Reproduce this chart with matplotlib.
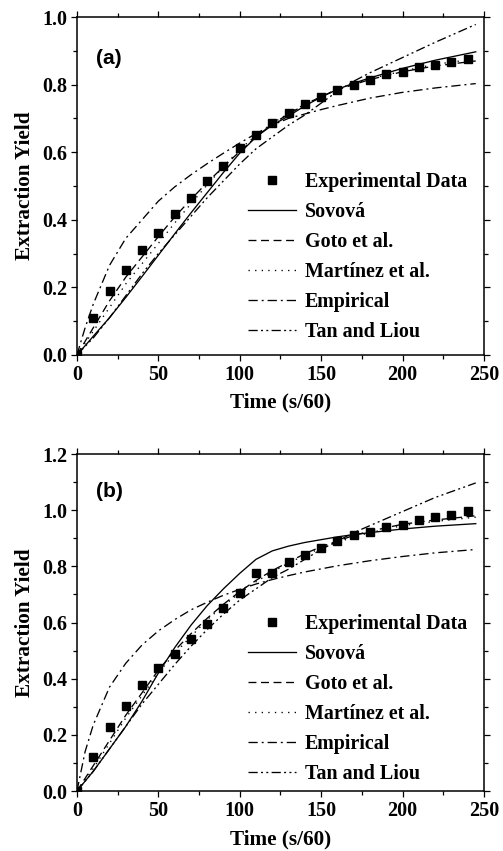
import numpy as np
import matplotlib
matplotlib.use('Agg')
import matplotlib.pyplot as plt
from matplotlib.ticker import MultipleLocator, FormatStrFormatter

plt.rcParams['font.family'] = ['Liberation Serif', 'DejaVu Serif']
plt.rcParams['font.weight'] = 'bold'

# ---- panel (a) data ----
t_exp = [0, 10, 20, 30, 40, 50, 60, 70, 80, 90, 100, 110, 120, 130, 140, 150,
         160, 170, 180, 190, 200, 210, 220, 230, 240]
a_exp = [0.0, 0.11, 0.19, 0.25, 0.31, 0.36, 0.417, 0.463, 0.516, 0.56, 0.613, 0.65,
         0.687, 0.716, 0.742, 0.763, 0.783, 0.80, 0.813, 0.83, 0.838, 0.852, 0.859,
         0.868, 0.876]

t_mod = [0, 5, 10, 20, 30, 40, 50, 60, 70, 80, 90, 100, 110, 120, 130, 140, 150,
         160, 170, 180, 200, 220, 245]
a_sovova = [0.0, 0.027, 0.055, 0.11, 0.17, 0.232, 0.295, 0.358, 0.42, 0.48, 0.54,
            0.597, 0.645, 0.68, 0.707, 0.737, 0.763, 0.786, 0.804, 0.82, 0.848,
            0.872, 0.897]
a_goto = [0.0, 0.04, 0.08, 0.16, 0.23, 0.29, 0.35, 0.408, 0.46, 0.51, 0.557, 0.602,
          0.645, 0.683, 0.713, 0.74, 0.765, 0.785, 0.80, 0.815, 0.838, 0.855, 0.87]
a_martinez = [0.0, 0.035, 0.07, 0.14, 0.21, 0.27, 0.33, 0.39, 0.447, 0.503, 0.557,
              0.608, 0.65, 0.685, 0.715, 0.742, 0.765, 0.786, 0.802, 0.817, 0.84,
              0.86, 0.876]
a_empirical = [0.0, 0.08, 0.15, 0.265, 0.345, 0.40, 0.455, 0.497, 0.533, 0.566,
               0.597, 0.627, 0.655, 0.68, 0.70, 0.713, 0.726, 0.738, 0.749, 0.76,
               0.777, 0.79, 0.803]
a_tan = [0.0, 0.025, 0.05, 0.11, 0.175, 0.24, 0.30, 0.355, 0.41, 0.465, 0.515,
         0.565, 0.61, 0.645, 0.68, 0.71, 0.745, 0.78, 0.81, 0.835, 0.88, 0.925, 0.978]

# ---- panel (b) data ----
b_exp = [0.0, 0.122, 0.229, 0.303, 0.378, 0.437, 0.487, 0.542, 0.594, 0.653, 0.705,
         0.778, 0.778, 0.814, 0.839, 0.867, 0.889, 0.91, 0.924, 0.94, 0.948, 0.964,
         0.974, 0.984, 0.996]
b_sovova = [0.0, 0.035, 0.07, 0.15, 0.23, 0.32, 0.42, 0.51, 0.59, 0.66, 0.72, 0.775,
            0.825, 0.855, 0.872, 0.885, 0.895, 0.905, 0.913, 0.92, 0.933, 0.943, 0.952]
b_goto = [0.0, 0.045, 0.09, 0.18, 0.27, 0.35, 0.43, 0.50, 0.56, 0.615, 0.665, 0.71,
          0.75, 0.785, 0.815, 0.845, 0.87, 0.89, 0.91, 0.925, 0.95, 0.965, 0.98]
b_martinez = [0.0, 0.04, 0.08, 0.17, 0.26, 0.34, 0.42, 0.49, 0.55, 0.61, 0.66,
              0.705, 0.745, 0.78, 0.812, 0.84, 0.865, 0.885, 0.905, 0.92, 0.945,
              0.96, 0.975]
b_empirical = [0.0, 0.14, 0.235, 0.37, 0.455, 0.52, 0.57, 0.61, 0.645, 0.672, 0.697,
               0.718, 0.737, 0.753, 0.767, 0.78, 0.791, 0.802, 0.811, 0.82, 0.835,
               0.848, 0.86]
b_tan = [0.0, 0.035, 0.07, 0.15, 0.23, 0.31, 0.38, 0.45, 0.515, 0.575, 0.63, 0.68,
         0.72, 0.76, 0.79, 0.825, 0.86, 0.89, 0.92, 0.945, 0.995, 1.045, 1.097]

labels = ['Experimental Data', 'Sovová', 'Goto et al.', 'Martínez et al.',
          'Empirical', 'Tan and Liou']

lw = 0.95
styles = {
    'Sovová': '-',
    'Goto et al.': (0, (6, 3.5)),
    'Martínez et al.': (0, (1, 4)),
    'Empirical': (0, (7, 3, 1.5, 3)),
    'Tan and Liou': (0, (7, 2.5, 1.5, 2.5, 1.5, 2.5)),
}


def draw_panel(ax, exp, curves, ymax, tag, leg_y):
    ax.plot(t_exp, exp, 's', color='black', markersize=5.5, label=labels[0], zorder=5)
    for name, vals in zip(labels[1:], curves):
        ax.plot(t_mod, vals, color='black', lw=lw, linestyle=styles[name], label=name)
    ax.set_xlim(0, 250)
    ax.set_ylim(0, ymax)
    ax.xaxis.set_major_locator(MultipleLocator(50))
    ax.xaxis.set_minor_locator(MultipleLocator(25))
    ax.yaxis.set_major_locator(MultipleLocator(0.2))
    ax.yaxis.set_minor_locator(MultipleLocator(0.1))
    ax.yaxis.set_major_formatter(FormatStrFormatter('%.1f'))
    ax.tick_params(which='both', direction='out', top=True, right=True, width=0.9,
                   labelsize=14.5)
    ax.tick_params(which='major', length=4.5, pad=2.5)
    ax.tick_params(which='minor', length=3)
    for lab in ax.get_xticklabels() + ax.get_yticklabels():
        lab.set_fontweight('bold')
    for sp in ax.spines.values():
        sp.set_linewidth(1.1)
    ax.set_xlabel('Time (s/60)', fontsize=15.3, fontweight='bold', labelpad=6)
    ax.set_ylabel('Extraction Yield', fontsize=15.3, fontweight='bold', labelpad=5)
    ax.text(0.048, tag[1], tag[0], transform=ax.transAxes, fontsize=15,
            fontweight='bold', family='Liberation Sans', va='center', ha='left')
    ax.legend(loc='upper left', bbox_to_anchor=(0.42, leg_y), frameon=False,
              handlelength=2.4, handletextpad=0.45, labelspacing=0.5,
              borderpad=0, borderaxespad=0, numpoints=1,
              prop={'weight': 'bold', 'size': 14.4})


fig = plt.figure(figsize=(5.03, 8.51), dpi=100)
ax1 = fig.add_axes([0.153, 0.583, 0.809, 0.397])
ax2 = fig.add_axes([0.153, 0.0705, 0.809, 0.396])

draw_panel(ax1, a_exp, [a_sovova, a_goto, a_martinez, a_empirical, a_tan],
           1.0, ('(a)', 0.876), 0.54)
draw_panel(ax2, b_exp, [b_sovova, b_goto, b_martinez, b_empirical, b_tan],
           1.2, ('(b)', 0.89), 0.526)

fig.savefig('out.png', dpi=100)
